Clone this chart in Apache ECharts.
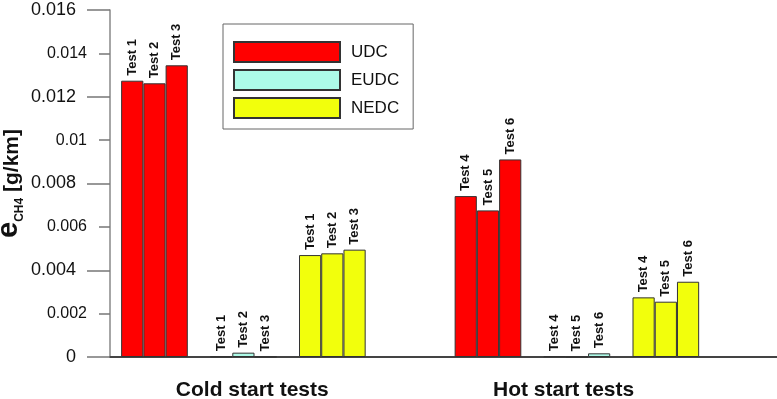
<!DOCTYPE html>
<html>
<head>
<meta charset="utf-8">
<script src="https://cdn.jsdelivr.net/npm/echarts@6/dist/echarts.min.js"></script>
<style>
  html, body { margin: 0; padding: 0; background: #fff; }
  #chart { width: 777px; height: 399px; }
</style>
</head>
<body>
<div id="chart"></div>
<script>
// data
const groups = ["Cold start tests", "Hot start tests"];
const cycles = ["UDC", "EUDC", "NEDC"];
const testNames = ["Test 1", "Test 2", "Test 3", "Test 4", "Test 5", "Test 6"];
const udc = [0.01274, 0.01262, 0.01345, 0.00742, 0.00676, 0.00911];
const eudc = [0.00002, 0.0002, 0.00001, 0.00003, 0, 0.00017];
const nedc = [0.0047, 0.00478, 0.00495, 0.00275, 0.00255, 0.00347];
const yTicks = [0, 0.002, 0.004, 0.006, 0.008, 0.01, 0.012, 0.014, 0.016];

const colors = ["#ff0000", "#adfbe8", "#f2ff0c"];
const FONT = "Liberation Sans, Arial, sans-serif";

// slot layout: 3 bars per cycle, 1 empty slot between cycles, 4 between groups
const slotOf = (i, c) => Math.floor(i / 3) * 15 + c * 4 + (i % 3) + 1;
const groupCenters = [6.4, 20.4];

const chartDom = document.getElementById("chart");
const myChart = echarts.init(chartDom);

const makeSeries = (name, values, c) => ({
  name: name,
  type: "bar",
  barWidth: 22.2,
  barGap: "-100%",
  data: values.map((v, i) => [slotOf(i, c), v]),
  itemStyle: { color: colors[c], borderColor: "#333", borderWidth: 1 },
  label: {
    show: true,
    position: "top",
    rotate: 90,
    align: "left",
    verticalAlign: "middle",
    distance: 5,
    fontFamily: FONT,
    fontWeight: "bold",
    fontSize: 13,
    color: "#111",
    formatter: (p) => testNames[p.dataIndex],
  },
  emphasis: { disabled: true },
});

const option = {
  animation: false,
  backgroundColor: "#fff",
  grid: { left: 110, right: 0, top: 10, bottom: 42, containLabel: false, outerBoundsMode: "none" },
  legend: {
    orient: "vertical",
    left: 223,
    top: 24,
    padding: [17, 14, 10, 10],
    itemWidth: 106,
    itemHeight: 20,
    itemGap: 6,
    icon: "rect",
    borderColor: "#666",
    borderWidth: 1,
    backgroundColor: "#fff",
    textStyle: { fontFamily: FONT, fontSize: 17, color: "#111", padding: [0, 0, 0, 6] },
    data: cycles,
  },
  xAxis: {
    type: "value",
    min: 0,
    max: 30,
    splitLine: { show: false },
    axisTick: { show: false },
    axisLine: { show: true, lineStyle: { color: "#444", width: 2 } },
    axisLabel: {
      customValues: groupCenters,
      formatter: (v) => groups[groupCenters.indexOf(v)],
      margin: 23,
      fontFamily: FONT,
      fontWeight: "bold",
      fontSize: 21,
      color: "#111",
    },
  },
  yAxis: {
    type: "value",
    min: 0,
    max: 0.016,
    interval: 0.004,
    splitLine: { show: false },
    axisLine: { show: true, lineStyle: { color: "#888", width: 1.5 } },
    axisTick: { show: true, length: 23, lineStyle: { color: "#777", width: 1.5 } },
    minorTick: { show: true, splitNumber: 2, length: 11, lineStyle: { color: "#777", width: 1.5 } },
    axisLabel: {
      customValues: yTicks,
      margin: 23,
      formatter: (v) => {
        const s = String(+v.toFixed(3));
        const i = yTicks.findIndex((t) => Math.abs(t - v) < 1e-9);
        return i % 2 === 0 ? "{b|" + s + "}" : "{s|" + s + "}";
      },
      rich: {
        b: { fontFamily: FONT, fontSize: 18, color: "#111", padding: [0, 11, 0, 0] },
        s: { fontFamily: FONT, fontSize: 16, color: "#111" },
      },
    },
    name: "{e|e}{sub|CH4}{u| [g/km]}",
    nameLocation: "middle",
    nameRotate: 90,
    nameGap: 87,
    nameMoveOverlap: false,
    nameTextStyle: {
      rich: {
        e: { fontFamily: FONT, fontWeight: "bold", fontSize: 29, color: "#111", verticalAlign: "bottom" },
        sub: { fontFamily: FONT, fontWeight: "bold", fontSize: 12, color: "#111", verticalAlign: "bottom", padding: [0, 0, -3, 0] },
        u: { fontFamily: FONT, fontWeight: "bold", fontSize: 21, color: "#111", verticalAlign: "bottom" },
      },
    },
  },
  series: [
    makeSeries(cycles[0], udc, 0),
    makeSeries(cycles[1], eudc, 1),
    makeSeries(cycles[2], nedc, 2),
  ],
};

myChart.setOption(option);
</script>
</body>
</html>
